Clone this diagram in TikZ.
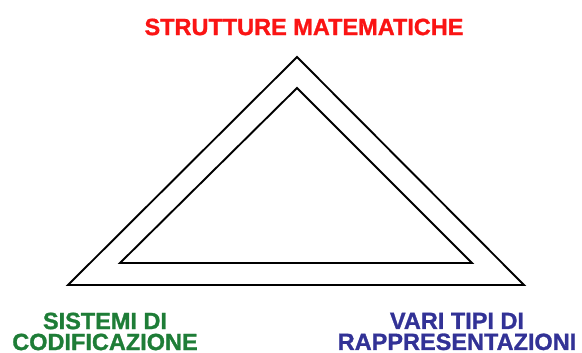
\documentclass[tikz,border=0pt]{standalone}
\usepackage{fontspec}
\setmainfont{Liberation Sans}[BoldFeatures={FakeBold=1.2}]
\usetikzlibrary{positioning}

\definecolor{titlered}{RGB}{250,20,20}
\definecolor{codegreen}{RGB}{30,125,55}
\definecolor{repblue}{RGB}{50,50,150}

\begin{document}
\begin{tikzpicture}[x=1pt, y=-1pt,
    edge/.style={draw, line width=1.9pt, line join=miter},
    cornertext/.style={inner sep=0pt, align=center, font=\fontsize{23.5}{21}\selectfont\bfseries}
]
    \useasboundingbox (0,0) rectangle (582,353);

    % Triangles
    \coordinate (outerleft) at (68,285);
    \coordinate (outertop) at (297,57);
    \coordinate (outerright) at (524,285);
    \coordinate (innerleft) at (120,263);
    \coordinate (innertop) at (297,88);
    \coordinate (innerright) at (472,263);

    \draw[edge] (outerleft) -- (outertop) -- (outerright) -- cycle;
    \draw[edge, line width=2.8pt] (outerleft) -- (outerright);
    \draw[edge] (innerleft) -- (innertop) -- (innerright) -- cycle;

    % Labels
    \node[cornertext, text=titlered] (strutture) at (304,27) {STRUTTURE MATEMATICHE};
    \node[cornertext, text=codegreen] (sistemi) at (105,331.5) {SISTEMI DI\\CODIFICAZIONE};
    \node[cornertext, text=repblue] (tipi) at (457,331.5) {VARI TIPI DI\\RAPPRESENTAZIONI};

\end{tikzpicture}
\end{document}
